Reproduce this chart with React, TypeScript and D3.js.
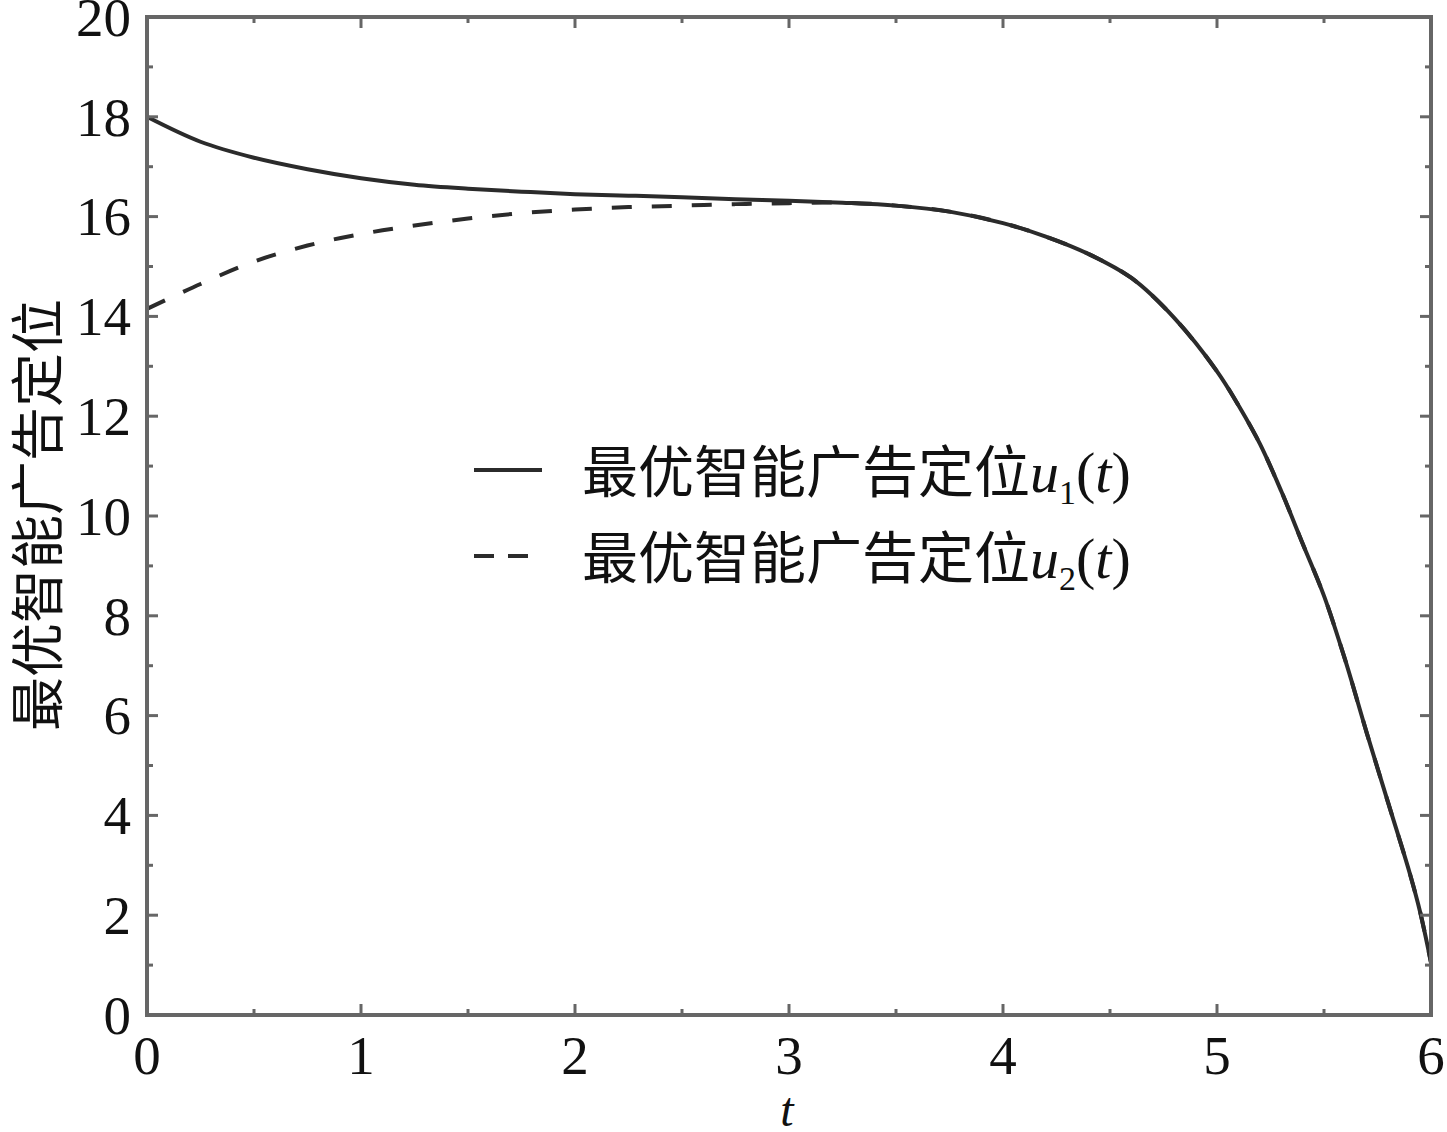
import React from "react";
import * as d3 from "d3";

// time points
const tValues = [0, 0.25, 0.5, 0.75, 1.0, 1.25, 1.5, 1.75, 2.0, 2.25, 2.5, 2.75, 3.0, 3.25, 3.5, 3.75, 4.0, 4.2, 4.4, 4.6, 4.8, 5.0, 5.1, 5.2, 5.3, 5.4, 5.5, 5.6, 5.7, 5.8, 5.9, 5.95, 6.0];
// u1(t) solid
const u1Values = [18.0, 17.5, 17.18, 16.95, 16.77, 16.64, 16.56, 16.5, 16.45, 16.42, 16.39, 16.35, 16.32, 16.28, 16.22, 16.1, 15.87, 15.6, 15.25, 14.77, 13.97, 12.9, 12.22, 11.45, 10.5, 9.45, 8.4, 7.1, 5.65, 4.25, 2.85, 2.05, 1.05];
// u2(t) dashed
const u2Values = [14.15, 14.65, 15.1, 15.42, 15.65, 15.82, 15.96, 16.07, 16.14, 16.19, 16.22, 16.25, 16.27, 16.28, 16.22, 16.1, 15.87, 15.6, 15.25, 14.77, 13.97, 12.9, 12.22, 11.45, 10.5, 9.45, 8.4, 7.1, 5.65, 4.25, 2.85, 2.05, 1.05];

const xTicks = [0, 1, 2, 3, 4, 5, 6];
const xMinor = [0.5, 1.5, 2.5, 3.5, 4.5, 5.5];
const yTicks = [0, 2, 4, 6, 8, 10, 12, 14, 16, 18, 20];
const yMinor = [1, 3, 5, 7, 9, 11, 13, 15, 17, 19];

const yLabel = "最优智能广告定位";
const xLabel = "t";
const legendNames = ["最优智能广告定位", "最优智能广告定位"];
const legendSubs = ["1", "2"];

const W = 1447;
const H = 1132;
const L = 147, R = 1431, T = 17, B = 1015;

const serif = "'Liberation Serif', 'Times New Roman', serif";
const cjk = "'Noto Sans CJK SC', sans-serif";

export default function App() {
  const x = d3.scaleLinear().domain([0, 6]).range([L, R]);
  const y = d3.scaleLinear().domain([0, 20]).range([B, T]);
  const line = d3
    .line<number>()
    .x((_, i) => x(tValues[i]))
    .y((d) => y(d))
    .curve(d3.curveCatmullRom.alpha(0.5));

  const frame = "#666";
  const ink = "#2b2b2b";
  const major = 11;
  const minor = 6;

  return (
    <svg width={W} height={H} style={{ position: "absolute", left: 0, top: 0, background: "#fff" }}>
      <rect x={0} y={0} width={W} height={H} fill="#fff" />
      {/* curves */}
      <path d={line(u2Values) || ""} fill="none" stroke={ink} strokeWidth={4} strokeDasharray="20 20" />
      <path d={line(u1Values) || ""} fill="none" stroke={ink} strokeWidth={4} />

      {/* ticks */}
      <g stroke={frame} strokeWidth={3}>
        {xTicks.map((t) => (
          <g key={"xt" + t}>
            <line x1={x(t)} x2={x(t)} y1={B} y2={B - major} />
            <line x1={x(t)} x2={x(t)} y1={T} y2={T + major} />
          </g>
        ))}
        {xMinor.map((t) => (
          <g key={"xm" + t}>
            <line x1={x(t)} x2={x(t)} y1={B} y2={B - minor} />
            <line x1={x(t)} x2={x(t)} y1={T} y2={T + minor} />
          </g>
        ))}
        {yTicks.map((v) => (
          <g key={"yt" + v}>
            <line x1={L} x2={L + major} y1={y(v)} y2={y(v)} />
            <line x1={R} x2={R - major} y1={y(v)} y2={y(v)} />
          </g>
        ))}
        {yMinor.map((v) => (
          <g key={"ym" + v}>
            <line x1={L} x2={L + minor} y1={y(v)} y2={y(v)} />
            <line x1={R} x2={R - minor} y1={y(v)} y2={y(v)} />
          </g>
        ))}
      </g>
      {/* frame */}
      <rect x={L} y={T} width={R - L} height={B - T} fill="none" stroke={frame} strokeWidth={4} />

      {/* tick labels */}
      <g fontFamily={serif} fontSize={55} fill="#111">
        {yTicks.map((v) => (
          <text key={"yl" + v} x={131} y={y(v)} dy="0.34em" textAnchor="end">
            {v}
          </text>
        ))}
        {xTicks.map((t) => (
          <text key={"xl" + t} x={x(t)} y={1074} textAnchor="middle">
            {t}
          </text>
        ))}
        <text x={787} y={1126} fontSize={48} textAnchor="middle" fontStyle="italic">
          {xLabel}
        </text>
      </g>

      {/* y label */}
      <text
        transform={`translate(58, ${515}) rotate(-90)`}
        textAnchor="middle"
        fontFamily={cjk}
        fontSize={54}
        fill="#111"
      >
        {yLabel}
      </text>

      {/* legend */}
      {legendNames.map((name, i) => {
        const ly = 470 + i * 86;
        return (
          <g key={"lg" + i}>
            <line
              x1={474}
              x2={542}
              y1={ly}
              y2={ly}
              stroke={ink}
              strokeWidth={4}
              strokeDasharray={i === 1 ? "20 14" : undefined}
            />
            <text x={582} y={ly + 22} fontFamily={cjk} fontSize={56} fill="#111">
              {name}
              <tspan fontFamily={serif} fontStyle="italic" fontSize={58}>u</tspan>
              <tspan fontFamily={serif} fontSize={34} dy={12}>{legendSubs[i]}</tspan>
              <tspan fontFamily={serif} fontSize={58} dy={-12}>(</tspan>
              <tspan fontFamily={serif} fontSize={58} fontStyle="italic">t</tspan>
              <tspan fontFamily={serif} fontSize={58}>)</tspan>
            </text>
          </g>
        );
      })}
    </svg>
  );
}
